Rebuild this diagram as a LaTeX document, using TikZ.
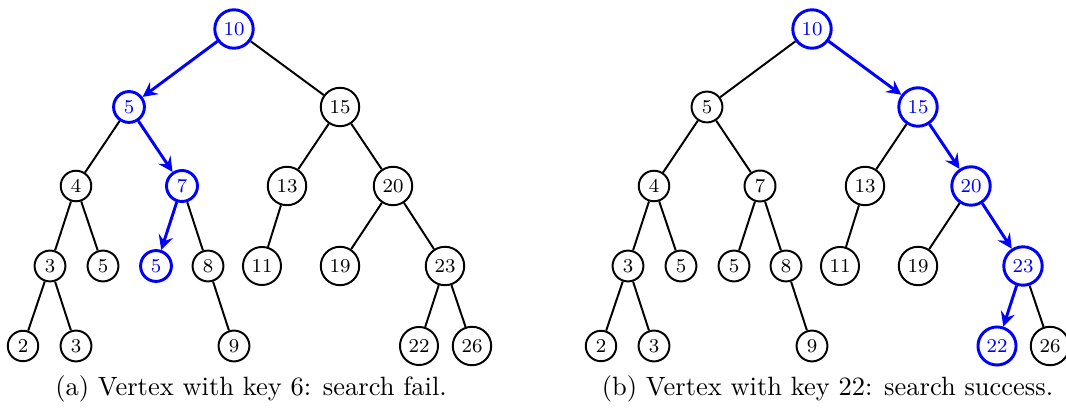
\documentclass[tikz,border=0pt]{standalone}
\usetikzlibrary{arrows.meta}
\begin{document}
\begin{tikzpicture}[x=0.408pt,y=-0.408pt,
  nd/.style={circle,draw,line width=0.8pt,inner sep=2pt,font=\footnotesize},
  hl/.style={nd,draw=blue,text=blue,line width=1.2pt},
  ed/.style={line width=0.8pt},
  pa/.style={draw=blue,line width=1.2pt,-{Stealth[length=6pt,width=6pt,inset=2.2pt]}},
  captext/.style={font=\fontsize{10.8}{13}\selectfont,anchor=base}]
\useasboundingbox (0,0) rectangle (1066,411);
% ---------- tree (a)
\node[hl] (a10) at (234,29) {10};
\node[hl] (a5) at (129,107) {5};
\node[nd] (a15) at (340,107) {15};
\node[nd] (a4) at (76,186) {4};
\node[hl] (a7) at (182,186) {7};
\node[nd] (a13) at (287,186) {13};
\node[nd] (a20) at (393,186) {20};
\node[nd] (a3) at (50,266) {3};
\node[nd] (a5l) at (103,266) {5};
\node[hl] (a5r) at (156,266) {5};
\node[nd] (a8) at (208,266) {8};
\node[nd] (a11) at (262,266) {11};
\node[nd] (a19) at (340,266) {19};
\node[nd] (a23) at (445,266) {23};
\node[nd] (a2) at (23,346) {2};
\node[nd] (a3b) at (76,346) {3};
\node[nd] (a9) at (234,346) {9};
\node[nd] (a22) at (419,346) {22};
\node[nd] (a26) at (472,346) {26};
\draw[pa] (a10) -- (a5);
\draw[ed] (a10) -- (a15);
\draw[ed] (a5) -- (a4);
\draw[pa] (a5) -- (a7);
\draw[ed] (a4) -- (a3);
\draw[ed] (a4) -- (a5l);
\draw[pa] (a7) -- (a5r);
\draw[ed] (a7) -- (a8);
\draw[ed] (a8) -- (a9);
\draw[ed] (a3) -- (a2);
\draw[ed] (a3) -- (a3b);
\draw[ed] (a15) -- (a13);
\draw[ed] (a15) -- (a20);
\draw[ed] (a13) -- (a11);
\draw[ed] (a20) -- (a19);
\draw[ed] (a20) -- (a23);
\draw[ed] (a23) -- (a22);
\draw[ed] (a23) -- (a26);
\node[captext] (capa) at (251,396) {(a) Vertex with key 6: search fail.};
% ---------- tree (b)
\begin{scope}[shift={(578,0)}]
\node[hl] (b10) at (234,29) {10};
\node[nd] (b5) at (129,107) {5};
\node[hl] (b15) at (340,107) {15};
\node[nd] (b4) at (76,186) {4};
\node[nd] (b7) at (182,186) {7};
\node[nd] (b13) at (287,186) {13};
\node[hl] (b20) at (393,186) {20};
\node[nd] (b3) at (50,266) {3};
\node[nd] (b5l) at (103,266) {5};
\node[nd] (b5r) at (156,266) {5};
\node[nd] (b8) at (208,266) {8};
\node[nd] (b11) at (262,266) {11};
\node[nd] (b19) at (340,266) {19};
\node[hl] (b23) at (445,266) {23};
\node[nd] (b2) at (23,346) {2};
\node[nd] (b3b) at (76,346) {3};
\node[nd] (b9) at (234,346) {9};
\node[hl] (b22) at (419,346) {22};
\node[nd] (b26) at (472,346) {26};
\draw[ed] (b10) -- (b5);
\draw[pa] (b10) -- (b15);
\draw[ed] (b5) -- (b4);
\draw[ed] (b5) -- (b7);
\draw[ed] (b4) -- (b3);
\draw[ed] (b4) -- (b5l);
\draw[ed] (b7) -- (b5r);
\draw[ed] (b7) -- (b8);
\draw[ed] (b8) -- (b9);
\draw[ed] (b3) -- (b2);
\draw[ed] (b3) -- (b3b);
\draw[ed] (b15) -- (b13);
\draw[pa] (b15) -- (b20);
\draw[ed] (b13) -- (b11);
\draw[ed] (b20) -- (b19);
\draw[pa] (b20) -- (b23);
\draw[pa] (b23) -- (b22);
\draw[ed] (b23) -- (b26);
\node[captext] (capb) at (249.5,396) {(b) Vertex with key 22: search success.};
\end{scope}
\end{tikzpicture}
\end{document}
